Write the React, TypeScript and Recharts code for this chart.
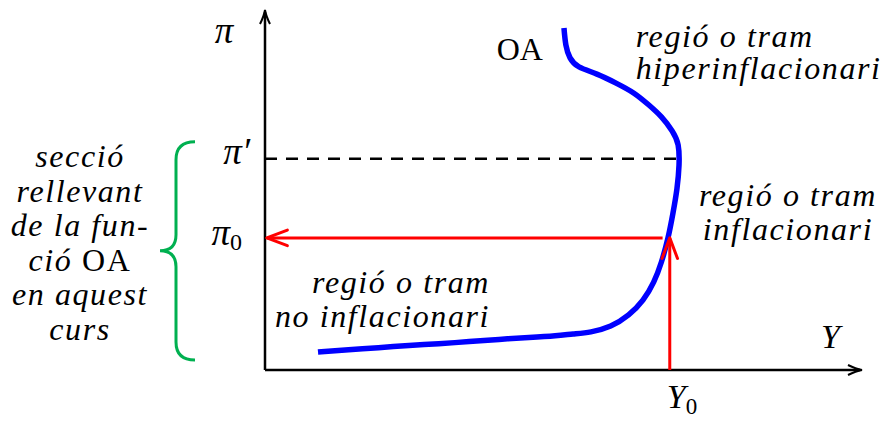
import React from 'react';
import { LineChart, Line, XAxis, YAxis, ReferenceLine, ReferenceDot } from 'recharts';

// OA (oferta agregada) curve: output Y and inflation π, in chart units (0–100)
const oaOutput = [8.88, 14.0, 19.0, 24.1, 29.1, 34.2, 39.2, 44.2, 48.6, 51.6, 54.6, 57.9, 60.9, 63.3, 65.1, 66.4, 67.5, 68.34, 69.0, 69.35, 69.2, 68.2, 66.4, 64.3, 61.8, 58.8, 55.6, 52.6, 51.1, 50.4, 50.08];
const oaInflation = [5.0, 5.6, 6.2, 6.8, 7.3, 7.9, 8.5, 9.0, 9.5, 10.0, 10.6, 12.2, 15.3, 19.4, 24.4, 30.0, 36.67, 43.6, 50.3, 56.9, 62.5, 66.4, 70.3, 73.6, 76.9, 79.7, 82.2, 84.2, 86.7, 90.3, 95.0];

const PI_0 = 36.7;
const PI_PRIME = 58.7;
const Y_0 = 67.8;
const X_MAX = 100;
const Y_MAX = 100;

const xTicks = [Y_0];
const yTicks = [PI_0, PI_PRIME];

const leftTextLines = ['secció', 'rellevant', 'de la fun-', 'ció OA', 'en aquest', 'curs'];
const hyperLines = ['regió o tram', 'hiperinflacionari'];
const inflLines = ['regió o tram', 'inflacionari'];
const noInflLines = ['regió o tram', 'no inflacionari'];

const oaData = oaOutput.map((x, i) => ({ x, y: oaInflation[i] }));

const FONT = '"Liberation Serif", "Times New Roman", serif';
const ITALIC = { fontFamily: FONT, fontStyle: 'italic' as const, fontSize: 32, letterSpacing: 1.6, fill: '#000' };

const YTick = (props: any) => {
  const { x, y, payload } = props;
  if (Math.abs(payload.value - PI_PRIME) < 1e-6) {
    return (
      <text x={x - 15} y={y + 5} textAnchor="end" fontFamily={FONT} fontStyle="italic" fontSize={37} fill="#000">
        π′
      </text>
    );
  }
  return (
    <text x={x - 23} y={y + 7} textAnchor="end" fontFamily={FONT} fontStyle="italic" fontSize={37} fill="#000">
      π<tspan fontStyle="normal" fontSize={24} dy={5}>0</tspan>
    </text>
  );
};

const XTick = (props: any) => {
  const { x, y } = props;
  return (
    <text x={x - 3} y={y + 38} textAnchor="start" fontFamily={FONT} fontStyle="italic" fontSize={34} fill="#000">
      Y<tspan fontStyle="normal" fontSize={23} dy={6}>0</tspan>
    </text>
  );
};

const ArrowLine = (props: any) => {
  const { x1, y1, x2, y2, stroke, strokeWidth } = props;
  const ang = Math.atan2(y2 - y1, x2 - x1);
  const len = 22;
  const spread = 0.36;
  const ax1 = x2 - len * Math.cos(ang - spread);
  const ay1 = y2 - len * Math.sin(ang - spread);
  const ax2 = x2 - len * Math.cos(ang + spread);
  const ay2 = y2 - len * Math.sin(ang + spread);
  return (
    <g>
      <line x1={x1} y1={y1} x2={x2} y2={y2} stroke={stroke} strokeWidth={strokeWidth} />
      <polyline points={`${ax1},${ay1} ${x2},${y2} ${ax2},${ay2}`} fill="none" stroke={stroke} strokeWidth={strokeWidth} strokeLinecap="round" strokeLinejoin="round" />
    </g>
  );
};

const AxisLine = (props: any) => {
  const { x1, y1, x2, y2 } = props;
  const ang = Math.atan2(y2 - y1, x2 - x1);
  const c = Math.cos(ang);
  const s = Math.sin(ang);
  const p = (bx: number, sy: number) => `${x2 - bx * c - sy * s} ${y2 - bx * s + sy * c}`;
  const d = `M ${p(14, -5)} Q ${p(6, -1)} ${x2} ${y2} Q ${p(6, 1)} ${p(14, 5)}`;
  return (
    <g>
      <line x1={x1} y1={y1} x2={x2 - 2 * c} y2={y2 - 2 * s} stroke="#000" strokeWidth={2.5} />
      <path d={d} fill="none" stroke="#000" strokeWidth={2} />
    </g>
  );
};

const Brace = (props: any) => {
  const { x1, y1, y2 } = props;
  const yB = Math.max(y1, y2) - 10;
  const yT = Math.min(y1, y2) - 17;
  const yM = (yT + yB) / 2;
  const xE = x1 - 70;
  const xV = x1 - 89;
  const xT = x1 - 105;
  const d = `M ${xE} ${yT} Q ${xV} ${yT} ${xV} ${yT + 18} L ${xV} ${yM - 16} Q ${xV} ${yM} ${xT} ${yM} Q ${xV} ${yM} ${xV} ${yM + 16} L ${xV} ${yB - 18} Q ${xV} ${yB} ${xE} ${yB}`;
  const cx = x1 - 185;
  return (
    <g>
      <path d={d} fill="none" stroke="#00b050" strokeWidth={3} />
      <text textAnchor="middle" {...ITALIC}>
        {leftTextLines.map((l, i) => {
          const parts = l.split('OA');
          return (
            <tspan key={i} x={cx} y={167 + i * 34.5}>
              {parts.length > 1 ? (
                <>
                  {parts[0]}
                  <tspan fontStyle="normal">OA</tspan>
                </>
              ) : (
                l
              )}
            </tspan>
          );
        })}
      </text>
    </g>
  );
};

const textBlock = (lines: string[], anchor: 'start' | 'middle' | 'end', dy: number) => (props: any) => {
  const { cx, cy } = props;
  return (
    <text textAnchor={anchor} {...ITALIC}>
      {lines.map((l, i) => (
        <tspan key={i} x={cx} y={cy + i * dy}>
          {l}
        </tspan>
      ))}
    </text>
  );
};

export default function App() {
  return (
    <div style={{ position: 'absolute', left: 0, top: 0, width: 888, height: 421, background: '#fff' }}>
      <LineChart width={888} height={421} margin={{ top: 10, right: 26, bottom: 50, left: 264 }}>
        <XAxis
          dataKey="x"
          type="number"
          domain={[0, X_MAX]}
          ticks={xTicks}
          height={1}
          tickSize={0}
          tickMargin={0}
          tickLine={false}
          axisLine={false}
          tick={<XTick />}
          allowDataOverflow
        />
        <YAxis
          dataKey="y"
          type="number"
          domain={[0, Y_MAX]}
          ticks={yTicks}
          width={1}
          tickSize={0}
          tickMargin={0}
          tickLine={false}
          axisLine={false}
          tick={<YTick />}
          allowDataOverflow
        />
        <ReferenceLine segment={[{ x: 0, y: 0 }, { x: X_MAX, y: 0 }]} ifOverflow="visible" shape={<AxisLine />} />
        <ReferenceLine segment={[{ x: 0, y: 0 }, { x: 0, y: Y_MAX }]} ifOverflow="visible" shape={<AxisLine />} />
        <ReferenceLine
          segment={[{ x: 0, y: PI_PRIME }, { x: 69.35, y: PI_PRIME }]}
          stroke="#000"
          strokeWidth={2.5}
          strokeDasharray="12 9"
          ifOverflow="visible"
        />
        <ReferenceLine
          segment={[{ x: Y_0 - 1.2, y: PI_0 }, { x: 0.3, y: PI_0 }]}
          stroke="#ff0000"
          strokeWidth={3}
          ifOverflow="visible"
          shape={<ArrowLine />}
        />
        <ReferenceLine
          segment={[{ x: 0, y: 0 }, { x: 0, y: PI_PRIME }]}
          ifOverflow="visible"
          shape={<Brace />}
        />
        <Line
          data={oaData}
          dataKey="y"
          type="natural"
          stroke="#0000ff"
          strokeWidth={5.5}
          dot={false}
          activeDot={false}
          isAnimationActive={false}
        />
        <ReferenceLine
          segment={[{ x: Y_0, y: 0 }, { x: Y_0, y: PI_0 }]}
          stroke="#ff0000"
          strokeWidth={3}
          ifOverflow="visible"
          shape={<ArrowLine />}
        />
        <ReferenceDot
          x={0}
          y={Y_MAX}
          r={0}
          ifOverflow="visible"
          shape={(p: any) => (
            <text x={p.cx - 41} y={p.cy + 33} textAnchor="middle" fontFamily={FONT} fontStyle="italic" fontSize={37} fill="#000">
              π
            </text>
          )}
        />
        <ReferenceDot
          x={X_MAX}
          y={0}
          r={0}
          ifOverflow="visible"
          shape={(p: any) => (
            <text x={p.cx - 22} y={p.cy - 22} textAnchor="end" fontFamily={FONT} fontStyle="italic" fontSize={34} fill="#000">
              Y
            </text>
          )}
        />
        <ReferenceDot
          x={oaOutput[oaOutput.length - 1]}
          y={oaInflation[oaInflation.length - 1]}
          r={0}
          ifOverflow="visible"
          shape={(p: any) => (
            <text x={p.cx - 21} y={p.cy + 32} textAnchor="end" fontFamily={FONT} fontSize={32} fill="#000">
              OA
            </text>
          )}
        />
        <ReferenceDot x={62.1} y={89.7} r={0} ifOverflow="visible" shape={textBlock(hyperLines, 'start', 32)} />
        <ReferenceDot x={87.6} y={45.6} r={0} ifOverflow="visible" shape={textBlock(inflLines, 'middle', 34)} />
        <ReferenceDot x={37.7} y={21.4} r={0} ifOverflow="visible" shape={textBlock(noInflLines, 'end', 34)} />
      </LineChart>
    </div>
  );
}
